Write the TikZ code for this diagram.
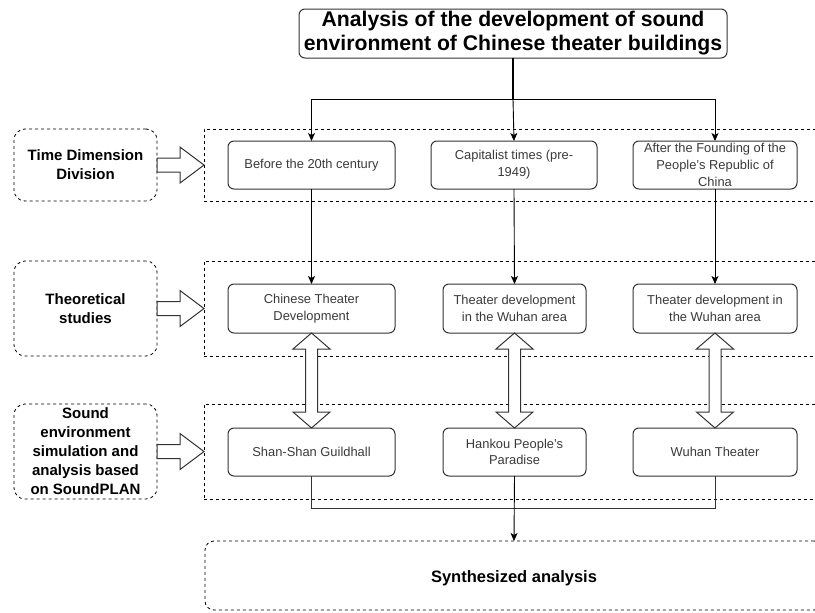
\documentclass[tikz,border=0pt]{standalone}
\usepackage{fontspec}
\setmainfont{Liberation Sans}
\usetikzlibrary{arrows.meta,calc}
\definecolor{boxline}{HTML}{333333}
\definecolor{boxtext}{HTML}{3A3A3A}
\begin{document}
\begin{tikzpicture}[x=1pt,y=-1pt,
  every node/.style={inner sep=0pt,outer sep=0pt},
  stagebox/.style={draw=boxline,line width=1pt,rounded corners=6pt,align=center,
    text=boxtext,font=\fontsize{12.9}{16.7}\selectfont,minimum height=48pt},
  container/.style={draw=black,line width=0.8pt,dash pattern=on 3pt off 3pt},
  sidelabel/.style={draw=black,line width=0.8pt,dash pattern=on 3pt off 3pt,rounded corners=11pt,
    align=center,font=\fontsize{15}{19}\selectfont\bfseries,minimum width=143pt},
  conn/.style={draw=black,line width=0.9pt},
  tip/.style={-{Stealth[length=8pt,width=7pt,inset=2pt]}},
  hollow/.style={draw=boxline,line width=1pt,fill=white,line join=miter}
]
\useasboundingbox (0,0) rectangle (815,613);
\clip (0,0) rectangle (815,613);

% title
\node[draw=boxline,line width=1pt,rounded corners=6pt,minimum width=428pt,minimum height=49pt,
  align=center,font=\fontsize{21.2}{24}\selectfont\bfseries] (title) at (513,33.5)
  {Analysis of the development of sound\\environment of Chinese theater buildings};

% containers (run off the right edge)
\node[container,minimum width=621pt,minimum height=72pt] (c1) at (514.5,165) {};
\node[container,minimum width=621pt,minimum height=95pt] (c2) at (514.5,308.5) {};
\node[container,minimum width=621pt,minimum height=95pt] (c3) at (514.5,451.5) {};
\node[container,rounded corners=9pt,minimum width=618pt,minimum height=69pt] (syn) at (514,575.5) {};
\node[font=\fontsize{16.5}{18}\selectfont\bfseries] (syntext) at (514,578) {Synthesized analysis};

% side labels
\node[sidelabel,minimum height=72pt] (l1) at (85.5,165) {Time Dimension\\Division};
\node[sidelabel,minimum height=95pt] (l2) at (85.5,308.5) {Theoretical\\studies};
\node[sidelabel,minimum height=95pt] (l3) at (85.5,451.5) {Sound\\environment\\simulation and\\analysis based\\on SoundPLAN};

% row 1
\node[stagebox,minimum width=167pt] (a1) at (311.5,165) {Before the 20th century};
\node[stagebox,minimum width=166pt] (a2) at (514,165) {Capitalist times (pre-\\1949)};
\node[stagebox,minimum width=164pt] (a3) at (715,165) {After the Founding of the\\People's Republic of\\China};
% row 2
\node[stagebox,minimum width=167pt,minimum height=49pt] (b1) at (311.5,308.5) {Chinese Theater\\Development};
\node[stagebox,minimum width=143pt,minimum height=49pt] (b2) at (514.5,308.5) {Theater development\\in the Wuhan area};
\node[stagebox,minimum width=164pt,minimum height=49pt] (b3) at (715,308.5) {Theater development in\\the Wuhan area};
% row 3
\node[stagebox,minimum width=167pt] (d1) at (311.5,452) {Shan-Shan Guildhall};
\node[stagebox,minimum width=143pt] (d2) at (514.5,452) {Hankou People's\\Paradise};
\node[stagebox,minimum width=164pt] (d3) at (715,452) {Wuhan Theater};

% top connectors
\coordinate (j) at (513,99);
\draw[conn,line width=1.8pt] (title.south) -- (j);
\draw[conn,tip] (j) -| (a1.north);
\draw[conn,tip] (j) -| (a3.north);
\draw[conn,tip] (j) -- (a2.north);

% row1 -> row2
\draw[conn,tip] (a1.south) -- (b1.north);
\draw[conn,tip] (a2.south) -- (b2.north);
\draw[conn,tip] (a3.south) -- (b3.north);

% hollow double arrows row2 <-> row3
\foreach \u/\v in {b1/d1,b2/d2,b3/d3}{
  \draw[hollow] (\u.south) -- ($(\u.south)+(-18.5,16)$) -- ($(\u.south)+(-6,16)$)
    -- ($(\v.north)+(-6,-16)$) -- ($(\v.north)+(-18.5,-16)$) -- (\v.north)
    -- ($(\v.north)+(18.5,-16)$) -- ($(\v.north)+(6,-16)$)
    -- ($(\u.south)+(6,16)$) -- ($(\u.south)+(18.5,16)$) -- cycle;
}

% hollow right arrows from side labels
\foreach \l/\c in {l1/c1,l2/c2,l3/c3}{
  \draw[hollow] ($(\l.east)+(0,-7)$) -- ($(\c.west)+(-24,-7)$) -- ($(\c.west)+(-24,-18)$)
    -- (\c.west) -- ($(\c.west)+(-24,18)$) -- ($(\c.west)+(-24,7)$) -- ($(\l.east)+(0,7)$) -- cycle;
}

% bottom connectors
\coordinate (k1) at (311.5,508);
\draw[conn,draw=boxline] (d1.south) -- (k1) -| (d3.south);
\draw[conn,tip] (d2.south) -- (syn.north);
\end{tikzpicture}
\end{document}
